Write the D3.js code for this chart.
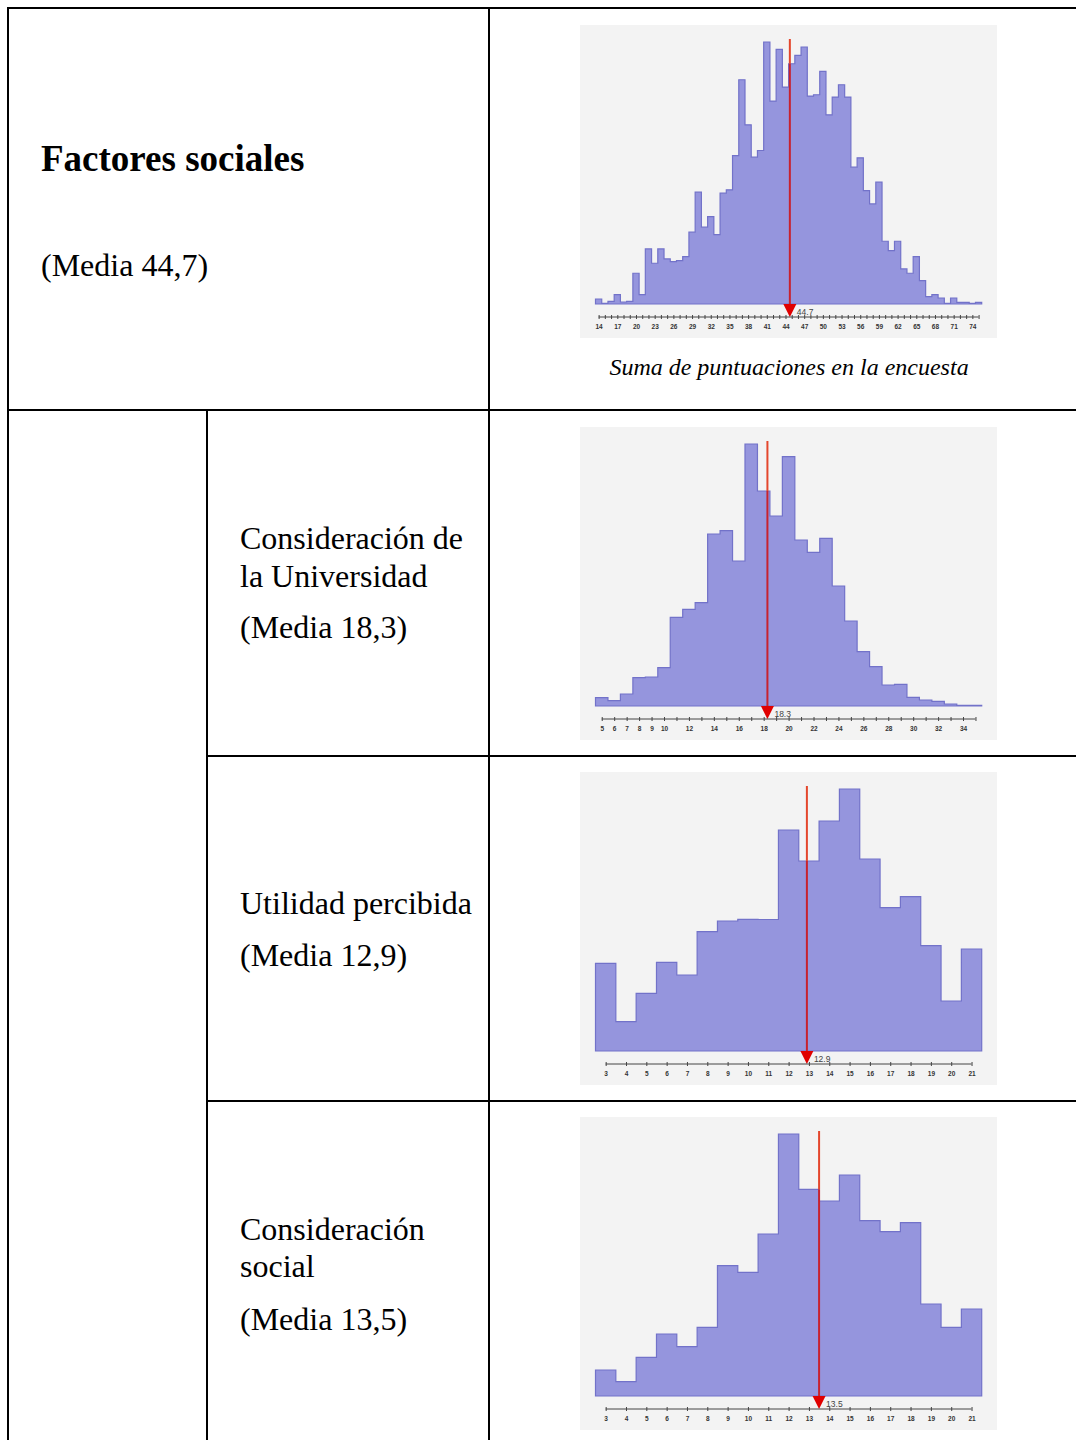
<!DOCTYPE html>
<html><head><meta charset="utf-8">
<script src="https://cdn.jsdelivr.net/npm/d3@7"></script>
<style>body{margin:0;background:#fff} svg{display:block}</style>
</head><body>
<script>
// ---------- DATA ----------
const factoresMin = 14, factoresMax = 75;
const factoresCounts = [5,0.7,2.7,9.3,2,2.7,30.7,9.3,55,40.7,55,45,42.3,43.3,47.3,71.7,111.7,76.7,87.3,69.3,110.7,114,148.3,224,179,146.7,153.3,261.7,202.7,254.3,216.7,240,248.3,256.7,207.7,209,232.3,189,206.7,219,206.7,136.7,146,113.3,100,121.7,62.7,53.3,62.7,35,30.7,47.3,23.3,7.3,9.3,6,0.7,6,1.7,1.7,0.7,1.7];
const factoresLabels = [14,17,20,23,26,29,32,35,38,41,44,47,50,53,56,59,62,65,68,71,74];
const factoresMean = 44.7;

const universidadMin = 5, universidadMax = 35;
const universidadCounts = [8.3,5.3,12,28.3,29,38.3,88.7,96.7,103.3,172,175.3,145,262,215,190,249.3,166,153.7,167.7,120,85,54.3,39.3,21,21.7,8.7,6,4.7,2,0.7,0.7];
const universidadLabels = [5,6,7,8,9,10,12,14,16,18,20,22,24,26,28,30,32,34];
const universidadMean = 18.3;

const utilidadMin = 3, utilidadMax = 21;
const utilidadCounts = [87.7,29.3,57.7,88.7,76,119.3,130,131.7,131.5,221,190,230,262,192,143.3,154.3,105.3,50,102];
const utilidadLabels = [3,4,5,6,7,8,9,10,11,12,13,14,15,16,17,18,19,20,21];
const utilidadMean = 12.9;

const socialMin = 3, socialMax = 21;
const socialCounts = [26,14.3,38.7,62,49.3,68.7,130.3,123.7,162,262,206.7,195,221,175.3,164.3,173.3,92,68.7,87];
const socialLabels = [3,4,5,6,7,8,9,10,11,12,13,14,15,16,17,18,19,20,21];
const socialMean = 13.5;

const rowTitle = "Factores sociales";
const rowMean1 = "(Media 44,7)";
const caption = "Suma de puntuaciones en la encuesta";
const subLabels = [
  {lines:["Consideración de","la Universidad"], mean:"(Media 18,3)"},
  {lines:["Utilidad percibida"], mean:"(Media 12,9)"},
  {lines:["Consideración","social"], mean:"(Media 13,5)"}
];

// ---------- LAYOUT ----------
const W = 1076, H = 1440;
const svg = d3.select("body").append("svg").attr("width", W).attr("height", H)
  .style("background", "#fff");
const serif = "'Liberation Serif','Times New Roman',serif";

// table lines
const tl = svg.append("g").attr("stroke", "#000").attr("stroke-width", 2);
const hl = (x1,x2,y) => tl.append("line").attr("x1",x1).attr("x2",x2).attr("y1",y).attr("y2",y);
const vl = (x,y1,y2) => tl.append("line").attr("x1",x).attr("x2",x).attr("y1",y1).attr("y2",y2);
hl(7, W, 8); hl(7, W, 410); hl(207, W, 756); hl(207, W, 1101);
vl(8, 7, H); vl(489, 7, H); vl(207, 410, H);

// texts
svg.append("text").attr("x", 41).attr("y", 171).attr("font-family", serif)
  .attr("font-weight", "bold").attr("font-size", 37).text(rowTitle);
svg.append("text").attr("x", 41).attr("y", 276).attr("font-family", serif)
  .attr("font-size", 32).text(rowMean1);
svg.append("text").attr("x", 789).attr("y", 375).attr("text-anchor", "middle")
  .attr("font-family", serif).attr("font-style", "italic").attr("font-size", 24).text(caption);

const subPos = [
  {y:[549,587], m:638},
  {y:[914], m:966},
  {y:[1240,1277], m:1330}
];
subLabels.forEach((s,i) => {
  s.lines.forEach((ln,j) => svg.append("text").attr("x", 240).attr("y", subPos[i].y[j])
    .attr("font-family", serif).attr("font-size", 32).text(ln));
  svg.append("text").attr("x", 240).attr("y", subPos[i].m)
    .attr("font-family", serif).attr("font-size", 32).text(s.mean);
});

// ---------- HISTOGRAMS ----------
const panels = [
  {top:25, min:factoresMin, max:factoresMax, counts:factoresCounts, labels:factoresLabels, mean:factoresMean},
  {top:427, min:universidadMin, max:universidadMax, counts:universidadCounts, labels:universidadLabels, mean:universidadMean},
  {top:772, min:utilidadMin, max:utilidadMax, counts:utilidadCounts, labels:utilidadLabels, mean:utilidadMean},
  {top:1117, min:socialMin, max:socialMax, counts:socialCounts, labels:socialLabels, mean:socialMean}
];
const PX = 580, PW = 417, PH = 313;

panels.forEach(p => {
  const g = svg.append("g").attr("transform", `translate(${PX},${p.top})`);
  g.append("rect").attr("width", PW).attr("height", PH).attr("fill", "#f3f3f3");
  const base = 279;
  const x = d3.scaleLinear().domain([p.min - 0.5, p.max + 0.5]).range([15.5, 401.7]);
  const y = d3.scaleLinear().domain([0, d3.max(p.counts)]).range([base, 17]);
  const bins = p.counts.map((c,i) => ({v: p.min + i, c}));
  const pts = [];
  bins.forEach(b => { pts.push({x: b.v - 0.5, c: b.c}); pts.push({x: b.v + 0.5, c: b.c}); });
  const area = d3.area().x(d => x(d.x)).y0(base).y1(d => y(d.c));
  g.append("path").attr("d", area(pts)).attr("fill", "#9595dd")
    .attr("stroke", "#7272c9").attr("stroke-width", 1.2);

  // mean line
  const mb = bins.find(b => Math.abs(b.v - p.mean) <= 0.5) || {c:0};
  const mx = x(p.mean);
  g.append("line").attr("x1", mx).attr("x2", mx).attr("y1", 14).attr("y2", y(mb.c))
    .attr("stroke", "#e4462c").attr("stroke-width", 2);
  g.append("line").attr("x1", mx).attr("x2", mx).attr("y1", y(mb.c)).attr("y2", base)
    .attr("stroke", "#c8222e").attr("stroke-width", 2);
  g.append("path").attr("d", `M${mx-6.5},${base}L${mx+6.5},${base}L${mx},${base+13}Z`)
    .attr("fill", "#e00000");
  g.append("text").attr("x", mx + 7).attr("y", base + 11).attr("font-family", "Arial, 'Liberation Sans', sans-serif")
    .attr("font-size", 8.5).attr("fill", "#444").text(d3.format(".1f")(p.mean));

  // axis
  const ax = d3.axisBottom(x).tickValues(d3.range(p.min, p.max + 1))
    .tickFormat(v => p.labels.includes(v) ? v : "").tickSizeInner(2).tickSizeOuter(0).tickPadding(5);
  const ag = g.append("g").attr("transform", `translate(0,${base + 13})`).call(ax);
  ag.select(".domain").attr("stroke", "#444").attr("stroke-width", 1)
    .attr("d", `M${x(p.min)},0H${x(p.max)}`);
  ag.selectAll(".tick line").attr("y1", -2).attr("y2", 2).attr("stroke", "#444");
  ag.selectAll(".tick text").attr("font-family", "Arial, 'Liberation Sans', sans-serif")
    .attr("font-size", 6.5).attr("font-weight", "bold").attr("fill", "#333");
});
</script>
</body></html>
